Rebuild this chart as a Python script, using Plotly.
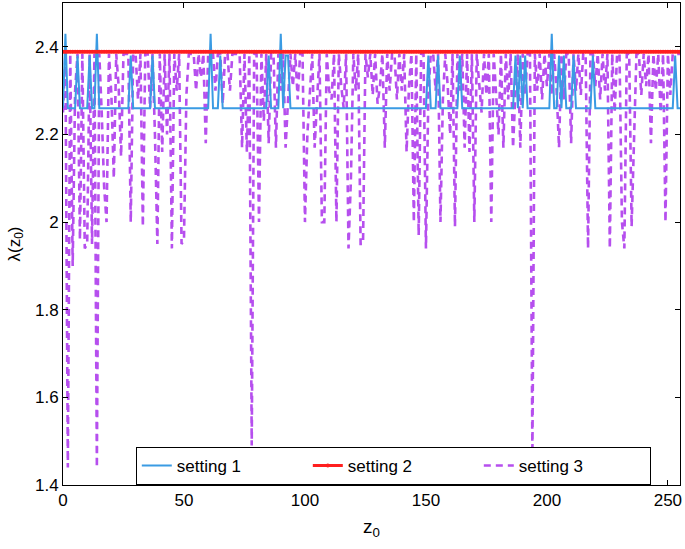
import plotly.graph_objects as go

# ---------------- data ----------------
z0 = list(range(256))

# setting 2: flat level
s2_level = 2.389

# setting 1: baseline with spikes
s1_base = 2.26
s1_spike_z = [1, 6, 11, 14, 28, 37, 61, 65, 85, 90, 92, 93, 151, 155, 164,
              187, 189, 191, 202, 205, 207, 211, 219, 253]
s1_spike_val = [2.43, 2.38, 2.38, 2.43, 2.38, 2.38, 2.43, 2.38, 2.38, 2.43, 2.38, 2.38, 2.38, 2.38, 2.38,
                2.38, 2.38, 2.38, 2.43, 2.38, 2.38, 2.38, 2.38, 2.38]

# setting 3: top level with dips
s3_top = 2.384
s3_dip_z = [0, 2, 4, 5, 7, 9, 10, 12, 14, 16, 17, 18, 20, 21, 23, 24, 28, 31, 33, 36,
            38, 39, 41, 43, 45, 47, 49, 50, 51, 55, 57, 59, 63, 66, 69, 74, 76, 78, 81, 83,
            85, 88, 90, 92, 93, 95, 97, 100, 101, 102, 104, 105, 107, 108, 110, 111, 113, 115, 116, 118,
            119, 121, 123, 124, 126, 128, 130, 131, 133, 135, 138, 140, 142, 143, 145, 147, 150, 151, 154, 156,
            157, 159, 160, 162, 164, 166, 168, 170, 172, 173, 175, 177, 179, 180, 182, 184, 186, 187, 189, 191,
            194, 196, 198, 200, 202, 204, 205, 207, 210, 212, 214, 217, 220, 222, 224, 226, 228, 231, 232, 235,
            236, 239, 241, 243, 245, 247, 249, 251]
s3_dip_val = [2.25, 1.44, 1.90, 2.30, 1.96, 1.94, 1.95, 1.95, 1.44, 2.25, 2.08, 2.00, 2.29, 2.10, 2.31, 2.15, 2.00, 2.28, 1.99, 2.26,
              2.20, 1.95, 2.16, 2.20, 1.94, 2.30, 1.95, 1.96, 2.29, 2.30, 2.33, 2.18, 2.30, 2.27, 2.30, 2.17, 2.16, 1.49, 2.00, 2.23,
              2.18, 2.17, 2.30, 2.17, 2.27, 2.31, 2.28, 2.00, 2.20, 2.30, 2.17, 2.29, 2.00, 2.00, 2.30, 2.28, 2.00, 2.31, 2.26, 1.94,
              2.10, 2.30, 1.95, 1.95, 2.33, 2.29, 2.27, 2.31, 2.17, 2.30, 2.28, 2.30, 2.16, 2.31, 2.00, 1.97, 1.94, 2.29, 2.30, 2.00,
              2.28, 2.31, 2.20, 1.99, 2.30, 2.17, 2.16, 2.00, 2.31, 2.25, 2.29, 2.00, 2.30, 2.20, 2.17, 2.28, 2.17, 2.30, 2.17, 2.29,
              1.47, 2.30, 2.28, 2.31, 2.29, 2.30, 2.17, 2.28, 2.18, 2.30, 2.29, 1.94, 2.31, 2.28, 2.30, 1.94, 2.25, 2.00, 1.94, 1.99,
              2.20, 2.29, 2.31, 2.18, 2.30, 2.25, 2.00, 2.29]

x_ticks = [0, 50, 100, 150, 200, 250]
y_ticks = [1.4, 1.6, 1.8, 2.0, 2.2, 2.4]
y_tick_labels = ["1.4", "1.6", "1.8", "2", "2.2", "2.4"]

# ---------------- build series ----------------
s1 = [s1_base] * len(z0)
for z, v in zip(s1_spike_z, s1_spike_val):
    s1[z] = v
s2 = [s2_level] * len(z0)
s3 = [s3_top] * len(z0)
for z, v in zip(s3_dip_z, s3_dip_val):
    s3[z] = min(s3[z], v)

BLUE = "#3A9BE3"
RED = "#FF1F1F"
PURPLE = "#B64FEE"
FONT = "Liberation Sans, Arial"

fig = go.Figure()
fig.add_trace(go.Scatter(x=z0, y=s3, mode="lines", name="setting 3", legendrank=3,
                         line=dict(color=PURPLE, width=2.6, dash="7px,5px")))
fig.add_trace(go.Scatter(x=z0, y=s1, mode="lines", name="setting 1", legendrank=1,
                         line=dict(color=BLUE, width=2)))
fig.add_trace(go.Scatter(x=z0, y=s2, mode="lines+markers", name="setting 2", legendrank=2,
                         line=dict(color=RED, width=3), marker=dict(size=4, color=RED)))

axis_common = dict(showline=True, linecolor="black", linewidth=1, mirror="ticks",
                   ticks="inside", ticklen=5, tickcolor="black", showgrid=False, zeroline=False,
                   automargin=False,
                   tickfont=dict(family=FONT, size=17, color="black"))

fig.update_xaxes(range=[0, 255], tickvals=x_ticks,
                 title=dict(text="z<sub>0</sub>", font=dict(family=FONT, size=19, color="black"), standoff=10),
                 **axis_common)
fig.update_yaxes(range=[1.4, 2.5], tickvals=y_ticks, ticktext=y_tick_labels,
                 title=dict(text="λ(z<sub>0</sub>)", font=dict(family=FONT, size=17, color="black"), standoff=10),
                 **axis_common)

fig.update_layout(
    width=685, height=549,
    margin=dict(l=63, r=5, t=3, b=64),
    paper_bgcolor="white", plot_bgcolor="white",
    legend=dict(orientation="h", x=0.118, y=0.0, xanchor="left", yanchor="bottom",
                bgcolor="white", bordercolor="black", borderwidth=1,
                font=dict(family=FONT, size=17, color="black"),
                entrywidth=126, traceorder="normal"),
)

fig.write_html("out.html", config={"displayModeBar": False},
               post_script="document.body.style.margin='0';")
